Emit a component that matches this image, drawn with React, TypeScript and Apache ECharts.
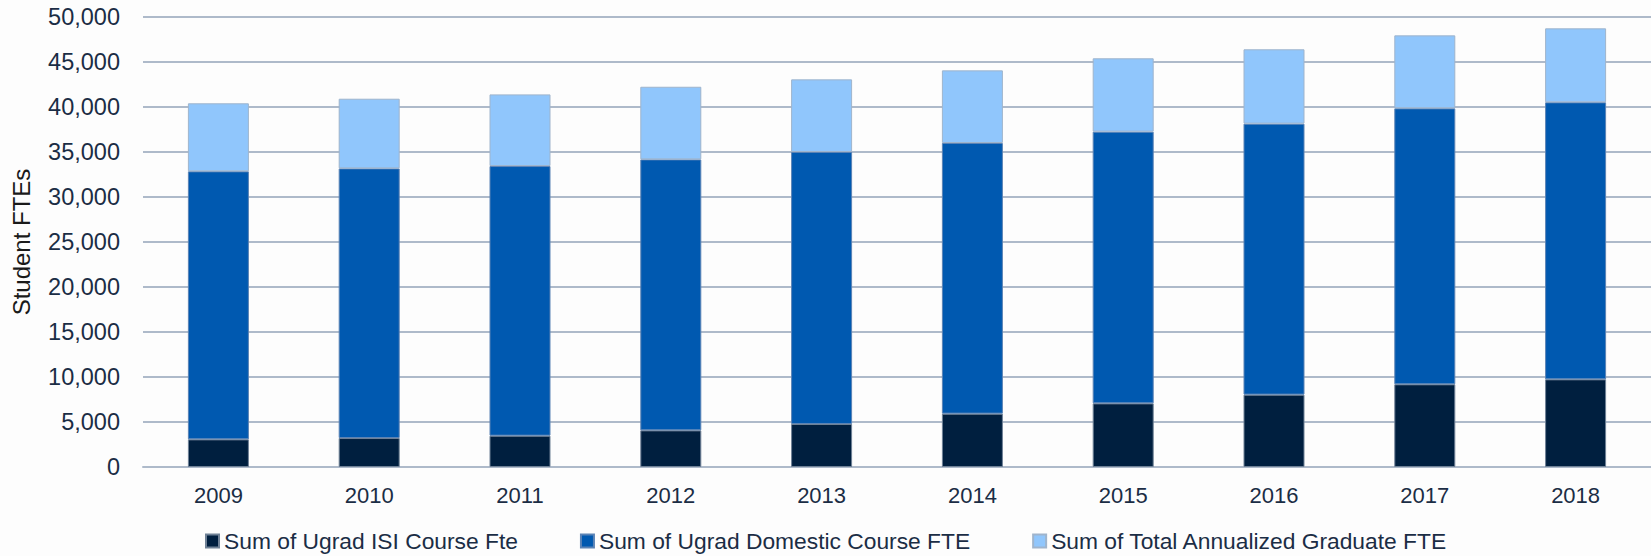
import React, { useEffect, useRef } from "react";
import * as echarts from "echarts";

const years = ["2009", "2010", "2011", "2012", "2013", "2014", "2015", "2016", "2017", "2018"];
const isiFte = [3070, 3220, 3480, 4070, 4780, 5930, 7070, 8040, 9190, 9740];
const domesticFte = [29780, 29960, 29960, 30110, 30220, 30070, 30190, 30110, 30660, 30780];
const graduateFte = [7560, 7740, 7960, 8070, 8070, 8070, 8150, 8260, 8110, 8220];
const seriesNames = [
  "Sum of Ugrad ISI Course Fte",
  "Sum of Ugrad Domestic Course FTE",
  "Sum of Total Annualized Graduate FTE",
];
const colors = ["#001f3f", "#0059b0", "#90c6fc"];

export default function App() {
  const ref = useRef<HTMLDivElement>(null);
  useEffect(() => {
    document.body.style.margin = "0";
    const chart = echarts.init(ref.current!, undefined, { renderer: "svg" });
    const font = "'Liberation Sans', Arial, sans-serif";
    const textColor = "#1b2d45";
    const gridColor = "#aebaca";
    const mk = (name: string, data: number[], color: string, border: string) => ({
      name,
      type: "bar",
      stack: "total",
      data,
      barWidth: 61,
      itemStyle: { color, borderColor: border, borderWidth: 1 },
    });
    chart.setOption({
      animation: false,
      backgroundColor: "#fdfdfd",
      textStyle: { fontFamily: font },
      color: colors,
      grid: { left: 143, top: 17, width: 1510, height: 450, containLabel: false },
      legend: {
        left: 205,
        top: 529,
        itemWidth: 13,
        itemHeight: 13,
        itemGap: 62,
        itemTextGap: 5,
        icon: "rect",
        padding: 0,
        textStyle: { fontSize: 22.8, lineHeight: 24, color: textColor, fontFamily: font },
        data: seriesNames,
      },
      xAxis: {
        type: "category",
        data: years,
        axisLine: { show: true, lineStyle: { color: gridColor, width: 2 } },
        axisTick: { show: false },
        axisLabel: { fontSize: 22, color: textColor, margin: 17, fontFamily: font },
      },
      yAxis: {
        type: "value",
        min: 0,
        max: 50000,
        interval: 5000,
        name: "Student FTEs",
        nameLocation: "middle",
        nameGap: 110,
        nameTextStyle: { fontSize: 24, color: "#1a1a1a", fontFamily: font },
        axisLine: { show: false },
        axisTick: { show: false },
        splitLine: { lineStyle: { color: gridColor, width: 2 } },
        axisLabel: {
          fontSize: 23.5,
          color: textColor,
          margin: 23,
          fontFamily: font,
          formatter: (v: number) => v.toLocaleString("en-US"),
        },
      },
      series: [
        mk(seriesNames[0], isiFte, colors[0], "#6f8196"),
        mk(seriesNames[1], domesticFte, colors[1], "#5b83b5"),
        mk(seriesNames[2], graduateFte, colors[2], "#9fb4cc"),
      ],
    });
    return () => chart.dispose();
  }, []);
  return <div ref={ref} style={{ width: 1651, height: 556 }} />;
}
